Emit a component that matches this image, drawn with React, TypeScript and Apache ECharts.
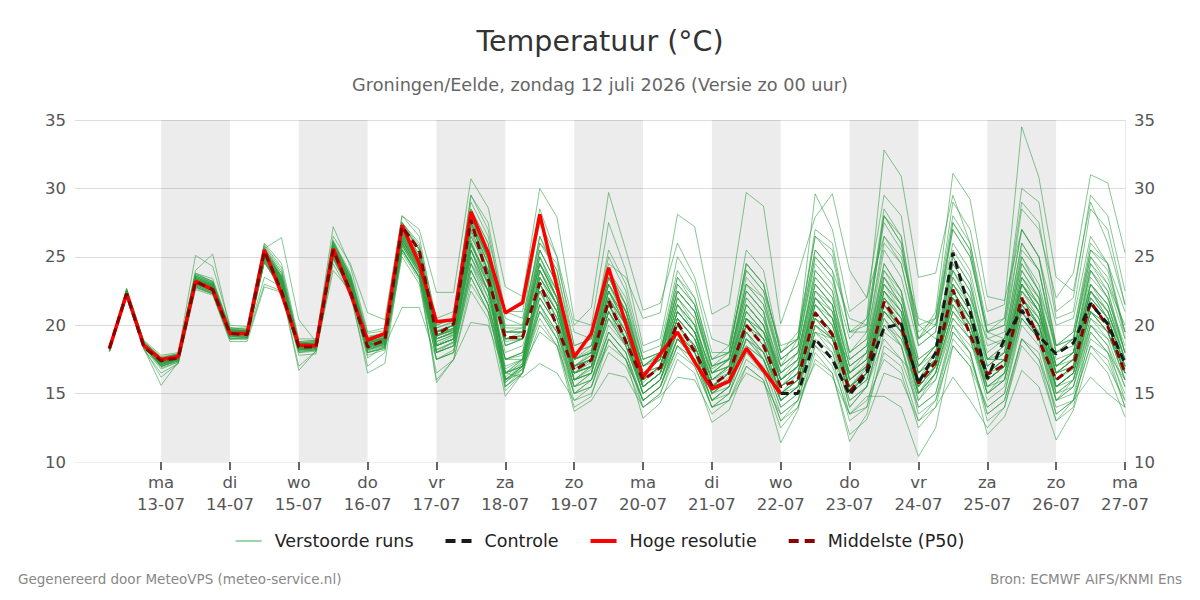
import React, { useEffect, useRef } from "react";
import * as echarts from "echarts";

// ---- time grid (hours relative to 13-07 00:00) ----
const FIRST_HOUR = -18; // first value: 12-07 06:00
const STEP_HOURS = 6;
const AXIS_MIN = -30; // 11-07 18:00
const AXIS_MAX = 336; // 27-07 00:00

// ---- tick labels ----
const dayNames = ["ma", "di", "wo", "do", "vr", "za", "zo", "ma", "di", "wo", "do", "vr", "za", "zo", "ma"];
const dayDates = ["13-07", "14-07", "15-07", "16-07", "17-07", "18-07", "19-07", "20-07", "21-07", "22-07", "23-07", "24-07", "25-07", "26-07", "27-07"];
const shadedDayIndex = [0, 2, 4, 6, 8, 10, 12];

// ---- texts ----
const titleText = "Temperatuur (°C)";
const subtitleText = "Groningen/Eelde, zondag 12 juli 2026 (Versie zo 00 uur)";
const footerLeft = "Gegenereerd door MeteoVPS (meteo-service.nl)";
const footerRight = "Bron: ECMWF AIFS/KNMI Ens";

// ---- Hoge resolutie (to 22-07 00:00) ----
const hres = [18.3, 22.3, 18.5, 17.5, 17.7, 23.2, 22.6, 19.4, 19.4, 25.5, 22.3, 18.55, 18.5, 25.6, 22.3, 18.9, 19.4, 27.3, 24.5, 20.25,
  20.4, 28.3, 25.3, 20.9, 21.65, 28.1, 22.8, 17.65, 19.4, 24.2, 20.1, 16.2, 17.9, 19.5, 17.3, 15.35, 15.9, 18.3, 16.7, 15.0];

// ---- Controle (from 22-07 00:00) ----
const controlStartIndex = 39;
const control = [15.0, 15.0, 19.0, 17.5, 14.9, 16.5, 19.8, 20.1, 15.75, 18.0, 25.3, 21.0, 16.1, 19.0, 21.1, 19.2, 17.9, 18.7, 21.6, 20.1, 17.2];

// ---- Middelste (P50) ----
const p50 = [18.3, 22.3, 18.4, 17.4, 17.6, 23.2, 22.6, 19.4, 19.3, 25.4, 22.5, 18.4, 18.4, 25.5, 22.5, 18.4, 18.9, 27.2, 25.5, 19.3,
  20.1, 27.7, 23.4, 19.1, 19.1, 23.1, 19.9, 16.7, 17.45, 21.8, 18.8, 16.0, 16.9, 20.2, 18.1, 15.6, 16.5, 20.0, 18.5, 15.5,
  16.0, 20.9, 19.3, 15.15, 16.7, 21.7, 19.9, 15.75, 17.3, 22.6, 19.3, 16.4, 17.1, 22.0, 18.9, 16.0, 17.0, 21.7, 19.9, 16.5];

// ---- Verstoorde runs (50 members) ----
const ensembleRuns = [
  [18.3,22.6,18.8, 17.6,17.9,23.8,23.4, 19.8,19.7,25.8,24.0, 18.8,18.9,26.2,23.8, 19.4,19.6,27.5,26.0, 20.5,21.0,29.0,26.5, 21.0,20.5,26.0,24.5, 19.5,19.0,24.5,23.5, 20.5,20.9,28.1,27.2, 20.8,21.5,29.7,28.7, 20.1,23.7,27.9,29.6, 24.0,22.0,26.5,25.0, 20.5,20.0,24.0,22.0, 19.0,18.5,24.5,22.5, 18.5,19.0,25.0,23.0, 20.0],
  [18.2,22.5,18.7, 17.4,17.7,23.5,23.0, 19.6,19.6,25.5,23.5, 18.6,18.7,25.9,23.4, 18.9,19.2,27.0,25.2, 19.5,20.0,28.0,25.0, 19.5,19.8,25.5,23.0, 17.5,18.0,23.5,21.0, 17.0,17.8,22.5,21.0, 17.0,17.5,23.0,22.0, 17.5,18.5,25.0,23.5, 19.0,20.5,32.8,30.9, 23.5,23.8,29.5,26.0, 19.5,19.0,26.0,24.0, 18.0,18.5,24.0,22.0, 18.5],
  [18.3,22.3,18.5, 17.2,17.5,23.0,22.6, 19.3,19.3,24.9,22.9, 18.3,18.4,25.3,22.8, 18.5,18.9,26.8,24.8, 19.2,19.8,27.5,24.0, 18.8,19.0,24.5,22.0, 17.0,17.8,23.0,20.5, 16.5,17.5,22.0,20.0, 16.5,17.0,22.5,21.0, 16.5,17.5,24.0,22.5, 18.0,19.0,26.5,24.5, 19.0,20.5,29.0,27.0, 21.0,21.5,34.5,30.8, 23.5,22.5,29.0,26.0, 21.5],
  [18.2,22.4,18.6, 17.5,17.8,23.6,23.1, 19.7,19.5,25.4,23.5, 18.7,18.6,25.9,23.3, 18.8,19.1,27.0,25.2, 19.3,19.6,27.8,24.8, 19.0,19.2,25.0,22.5, 17.5,18.2,23.5,21.0, 17.0,17.8,22.5,21.0, 16.8,17.6,23.0,21.5, 17.0,18.0,23.5,22.0, 17.5,18.5,25.5,23.5, 18.5,19.5,27.0,25.0, 19.5,20.0,28.5,27.0, 22.0,23.8,31.0,30.4, 25.3],
  [18.1,22.1,18.3, 16.8,17.3,22.8,22.3, 19.0,19.0,23.0,22.5, 18.0,18.1,24.0,22.5, 18.0,18.3,25.5,23.5, 18.0,18.5,24.5,21.5, 17.0,17.5,21.0,19.5, 15.5,16.0,19.5,18.0, 14.5,15.5,18.5,17.5, 14.5,15.0,18.0,17.0, 13.5,14.5,18.5,17.0, 13.5,14.8,14.8,14.0, 10.4,12.5,18.5,17.0, 14.0,15.0,20.0,18.5, 14.5,15.5,19.5,18.0, 15.0],
  [18.2,22.2,18.4, 17.0,17.4,23.0,22.5, 19.2,19.2,24.8,22.6, 18.2,18.3,25.0,22.4, 17.6,18.5,21.3,21.3, 17.5,18.0,24.5,22.5, 17.5,17.8,22.0,20.0, 16.0,16.8,20.5,18.5, 15.5,16.5,19.5,18.0, 15.5,16.0,19.5,18.0, 15.0,16.0,20.5,19.0, 15.0,16.0,21.0,19.5, 15.5,17.0,21.5,19.5, 15.5,16.5,21.5,19.5, 15.5,16.5,21.0,19.5, 16.0],
  [18.3,22.5,18.5, 17.1,17.5,23.1,22.6, 19.4,19.3,25.0,23.0, 18.3,18.4,25.3,22.7, 18.3,18.6,25.8,23.8, 16.0,17.5,20.2,20.0, 16.5,17.0,19.5,18.5, 15.0,16.0,18.5,17.5, 14.5,15.5,19.0,18.0, 15.0,16.0,20.0,18.5, 15.0,16.0,21.0,19.5, 15.5,16.5,21.5,19.5, 15.0,16.5,20.5,19.0, 15.5,16.0,21.0,19.0, 15.5,16.5,21.0,19.5, 16.5],
  [18.2,22.3,18.6, 17.3,17.6,23.2,22.7, 19.5,19.4,25.1,23.1, 18.4,18.5,25.4,22.9, 18.5,18.8,26.0,24.0, 18.0,18.5,24.0,21.5, 16.5,16.2,17.2,16.5, 14.5,15.0,18.0,17.0, 14.0,15.0,18.5,17.5, 14.0,15.0,19.0,18.0, 14.5,15.5,20.0,19.0, 15.0,16.0,21.0,19.5, 15.0,16.5,21.0,19.0, 15.0,16.0,20.5,19.0, 14.5,16.0,21.0,19.5, 16.0],
  [18.3,22.6,18.7, 17.5,17.8,23.7,23.2, 19.7,19.6,25.6,26.4, 20.4,18.8,26.1,23.5, 19.2,19.4,27.5,25.8, 20.0,20.5,29.5,27.0, 20.5,20.0,28.5,25.0, 20.0,21.3,29.7,25.5, 21.1,21.6,26.0,23.5, 19.0,18.5,24.0,22.5, 18.5,19.0,25.5,24.0, 20.5,20.0,27.5,25.5, 20.0,20.5,27.0,25.0, 19.5,20.0,27.0,25.0, 20.0,20.5,26.5,24.5, 21.0],
  [18.4,22.7,18.9, 17.8,18.0,25.1,24.3, 20.0,19.9,26.0,24.5, 19.0,19.0,26.5,24.5, 20.9,20.4,28.0,27.0, 22.4,22.4,30.7,28.6, 22.8,22.1,30.0,27.9, 20.4,20.0,27.5,24.0, 18.5,19.0,25.0,23.0, 18.0,18.0,24.5,23.0, 18.0,19.5,26.5,25.5, 19.5,20.5,28.0,26.0, 19.0,20.0,26.0,24.0, 18.5,19.0,25.0,23.0, 18.0,19.0,24.5,23.0, 19.0],
  [18.1,22.0,18.2, 16.5,17.2,22.6,22.2, 18.8,18.8,22.8,22.4, 17.8,17.9,24.5,22.2, 17.0,18.0,25.0,23.0, 16.5,17.5,23.0,21.0, 16.0,16.5,21.5,19.0, 14.0,14.8,19.0,17.5, 13.2,14.3,17.5,16.5, 12.9,13.8,17.0,16.0, 11.4,13.8,18.5,17.5, 13.0,14.0,19.5,18.5, 14.0,15.0,20.0,18.0, 13.5,14.5,19.0,17.5, 13.0,14.0,19.5,18.0, 14.0],
  [18.2,22.3,18.5, 17.0,17.4,22.9,22.4, 19.2,19.1,24.7,22.7, 18.1,18.2,25.0,22.6, 18.0,18.4,26.0,24.0, 18.5,19.0,25.5,22.5, 17.5,18.0,22.5,20.0, 15.5,16.5,21.0,18.5, 15.0,16.0,20.0,18.0, 14.5,15.5,19.5,17.5, 14.0,15.0,20.0,18.5, 14.0,15.5,20.5,18.5, 13.5,14.5,18.5,17.0, 12.0,13.3,16.7,15.5, 11.6,13.8,18.0,16.5, 13.3],
  [18.2,22.4,18.6, 17.4,17.7,23.4,22.9, 19.6,19.5,25.3,23.3, 18.5,18.6,25.7,23.1, 18.7,19.0,26.7,24.6, 19.2,19.6,27.0,24.0, 16.5,17.2,24.0,21.5, 16.8,17.5,22.5,20.0, 16.0,17.0,21.0,19.5, 16.0,16.8,21.0,19.5, 16.0,17.0,22.0,20.5, 16.0,17.2,22.5,21.0, 16.5,18.0,23.0,21.0, 16.5,17.5,23.0,21.0, 16.5,17.5,22.5,21.0, 17.5],
  [18.3,22.2,18.4, 17.2,17.6,23.1,22.6, 19.3,19.3,25.0,22.9, 18.3,18.4,25.4,22.8, 18.4,18.7,26.2,24.2, 18.6,19.2,26.0,23.0, 16.0,17.0,23.0,20.5, 16.0,17.0,21.5,19.0, 15.5,16.5,20.0,18.5, 15.2,16.2,20.0,18.5, 15.0,16.0,21.0,19.5, 15.2,16.5,22.0,20.0, 15.5,17.0,22.0,19.5, 16.0,17.0,22.0,20.0, 16.0,16.8,21.5,20.0, 16.8],
  [18.3,22.5,18.7, 17.5,17.8,23.5,23.0, 19.6,19.6,25.5,23.5, 18.6,18.7,25.8,23.3, 19.0,19.2,27.2,25.5, 19.8,20.2,28.5,26.0, 19.8,19.8,26.5,24.0, 18.5,19.0,25.5,23.0, 18.0,18.5,24.0,22.0, 17.5,18.0,24.5,23.0, 18.0,19.0,26.5,25.0, 19.5,20.0,28.5,26.5, 19.5,20.5,28.0,26.0, 20.0,20.5,29.0,27.5, 20.5,21.0,28.5,27.0, 21.5],
  [18.2,22.4,18.5, 17.3,17.6,23.3,22.8, 19.5,19.4,25.2,23.2, 18.4,18.5,25.6,23.0, 18.6,18.9,26.4,24.4, 19.0,19.4,26.8,23.6, 16.2,17.4,23.5,21.0, 16.5,17.3,22.0,19.5, 15.8,16.9,20.5,19.0, 15.6,16.5,20.5,19.0, 15.5,16.5,21.5,20.0, 15.5,16.8,22.0,20.5, 15.8,17.5,22.5,20.0, 16.0,17.0,22.5,20.5, 16.0,17.0,22.0,20.5, 17.0],
  [18.1,22.2,18.4, 17.0,17.5,23.0,22.5, 19.2,19.2,24.9,22.8, 18.2,18.3,25.2,22.6, 18.2,18.6,26.0,24.0, 19.5,20.0,27.5,25.0, 19.0,19.5,24.5,22.0, 16.0,16.5,20.5,18.5, 15.0,16.0,19.0,17.5, 16.5,17.5,22.5,21.0, 15.0,15.5,19.5,19.0, 17.5,18.5,24.5,22.5, 15.0,16.0,20.0,18.5, 17.0,18.0,25.0,22.5, 15.0,16.0,20.0,19.0, 17.5],
  [18.3,22.5,18.7, 17.6,17.8,23.5,23.0, 19.6,19.6,25.5,23.4, 18.6,18.7,25.8,23.2, 18.8,19.1,26.8,24.8, 18.5,19.0,25.0,22.5, 18.0,18.5,22.0,20.0, 17.0,18.0,24.0,21.5, 16.5,17.5,22.0,20.5, 15.0,15.5,18.5,17.5, 14.5,15.5,20.0,19.0, 14.0,15.5,19.0,17.5, 16.0,18.0,24.5,22.5, 17.5,17.5,22.0,20.0, 14.5,15.0,19.0,18.0, 16.0],
  [18.2,22.3,18.6, 17.3,17.7,23.3,22.9, 19.5,19.5,25.3,23.3, 18.5,18.5,25.7,23.1, 18.7,19.0,26.5,24.5, 19.5,20.0,27.5,24.5, 19.5,19.5,25.0,22.0, 17.5,18.0,22.5,20.5, 17.0,17.5,21.5,20.0, 16.5,17.0,21.5,20.0, 16.5,18.0,24.0,22.5, 16.0,17.0,21.0,19.5, 15.5,17.0,23.0,21.5, 16.5,17.5,23.5,21.5, 17.0,18.0,23.0,21.5, 17.5],
  [18.2,22.4,18.6, 17.2,17.5,23.2,22.7, 19.4,19.4,25.1,23.1, 18.4,18.4,25.5,22.9, 18.6,18.8,26.3,24.3, 18.8,19.3,26.2,23.2, 15.8,16.8,22.5,20.5, 16.5,17.0,21.5,19.5, 16.0,17.0,21.0,19.5, 16.0,17.0,21.5,20.0, 16.5,17.5,22.5,21.0, 15.0,16.5,22.5,21.0, 17.0,18.5,24.0,21.5, 16.0,17.0,22.0,20.0, 16.5,17.5,23.0,21.0, 17.0],
  [18.3,22.4,18.5, 17.4,17.6,23.4,22.8, 19.5,19.4,25.2,23.2, 18.5,18.6,25.6,23.0, 18.5,18.9,26.6,24.6, 19.3,19.8,27.8,25.0, 16.0,17.0,23.0,21.0, 16.5,17.0,21.5,19.0, 15.5,16.5,20.0,18.5, 15.5,16.0,20.0,19.0, 15.5,16.5,22.0,20.5, 16.5,17.5,23.5,21.5, 16.0,17.5,22.5,20.5, 16.5,17.5,23.0,21.0, 16.5,17.5,22.5,20.5, 17.0],
  [18.2,22.6,18.8, 17.7,17.9,24.0,25.2, 19.8,19.8,25.9,24.2, 18.8,18.9,27.2,24.3, 19.5,19.8,28.0,26.5, 20.0,20.5,29.5,27.5, 21.0,21.0,27.5,25.0, 18.5,19.0,25.0,22.5, 17.5,18.0,23.5,21.5, 17.0,18.0,24.5,23.0, 18.0,19.0,27.0,26.0, 19.5,19.5,28.0,26.0, 18.5,19.5,27.5,25.5, 19.0,19.5,27.0,25.0, 18.5,19.5,25.5,24.0, 19.5],
  [18.1,22.1,18.3, 16.2,17.2,22.7,22.3, 19.0,19.0,24.6,22.6, 17.0,18.1,24.8,22.4, 17.8,18.2,25.3,23.3, 17.5,18.2,23.5,21.0, 16.0,16.8,20.5,18.5, 14.5,15.5,19.5,18.0, 14.0,15.0,18.0,17.0, 14.0,14.5,17.5,16.5, 13.0,14.5,19.0,18.0, 13.5,14.5,17.5,16.5, 12.5,14.0,19.0,17.5, 14.0,15.0,20.5,19.0, 13.5,14.5,20.0,18.5, 14.5],
  [18.3,22.3,18.5, 17.3,17.5,23.1,22.6, 19.3,19.3,25.0,23.0, 18.3,18.4,25.4,22.8, 18.4,18.7,26.0,24.0, 18.0,18.8,25.0,22.0, 17.5,18.0,23.5,21.5, 17.0,17.5,22.5,20.0, 16.0,17.0,21.5,19.5, 15.0,16.0,19.5,18.0, 15.0,16.5,21.5,20.5, 16.5,17.5,23.0,21.0, 15.0,17.0,21.5,19.5, 15.0,16.5,21.5,20.0, 15.5,16.5,21.5,20.0, 16.5],
  [18.2,22.5,18.6, 17.4,17.7,23.4,22.9, 19.6,19.5,25.4,23.4, 18.5,18.6,25.8,23.2, 18.8,19.1,27.0,25.0, 19.0,19.5,26.5,24.0, 19.0,19.0,25.5,23.0, 17.0,17.5,23.5,21.0, 16.5,17.5,22.5,21.0, 16.5,17.5,23.5,22.0, 17.0,18.0,23.0,21.5, 15.0,16.0,21.0,20.0, 16.0,17.5,23.5,21.5, 16.0,17.0,22.0,20.5, 17.0,18.0,24.5,22.5, 18.0],
  [18.2,22.2,18.4, 17.1,17.5,23.0,22.5, 19.2,19.2,24.8,22.8, 18.2,18.3,25.1,22.6, 18.2,18.5,25.5,23.5, 18.0,18.5,25.5,23.0, 15.5,16.5,22.0,20.0, 15.5,16.5,20.5,19.0, 15.0,16.0,19.0,18.0, 14.5,15.5,19.0,18.0, 15.0,16.0,20.5,19.5, 14.5,15.5,20.0,19.0, 15.0,16.5,21.0,19.5, 15.5,16.5,21.0,19.0, 14.5,15.5,20.5,19.0, 15.5],
  [18.3,22.6,18.8, 17.6,17.9,23.8,23.2, 19.8,19.7,25.7,23.8, 18.7,18.8,26.0,23.6, 19.0,19.3,27.3,25.6, 19.5,20.0,28.0,25.5, 19.0,19.0,24.0,21.5, 16.0,16.5,21.0,19.0, 15.5,16.5,20.5,19.0, 16.0,17.0,22.0,20.5, 16.0,17.5,23.0,21.5, 17.0,18.0,24.5,22.5, 17.0,18.5,25.5,23.5, 17.5,18.5,24.5,22.5, 17.0,18.0,23.5,22.0, 18.0],
  [18.1,22.3,18.5, 17.0,17.4,22.9,22.4, 19.1,19.1,24.7,22.7, 18.1,18.2,25.1,22.5, 18.0,18.4,25.8,23.8, 18.2,18.8,25.5,22.5, 17.5,18.0,22.5,20.0, 15.0,15.5,19.0,17.5, 14.5,15.5,18.5,17.0, 14.0,14.5,17.0,16.0, 12.5,14.0,17.5,16.5, 12.0,13.1,16.5,16.0, 13.0,14.0,16.2,14.5, 12.5,14.0,18.5,17.0, 13.0,14.5,16.2,15.0, 14.0],
  [18.2,22.4,18.6, 17.3,17.6,23.3,22.8, 19.5,19.4,25.2,23.2, 18.4,18.5,25.6,23.0, 18.6,18.9,26.4,24.4, 19.0,19.5,26.5,24.0, 18.5,19.0,24.0,22.0, 17.5,18.0,23.0,20.5, 16.5,17.0,21.0,19.5, 16.0,16.5,20.5,19.5, 17.0,19.0,29.6,27.0, 21.0,22.0,29.5,28.0, 20.0,19.0,23.0,21.0, 17.5,17.5,23.5,22.0, 17.5,18.0,24.0,22.0, 18.0],
  [18.2,22.3,18.5, 17.2,17.5,23.1,22.6, 19.4,19.3,25.0,23.0, 18.3,18.4,25.4,22.8, 18.4,18.7,26.1,24.1, 18.5,19.0,25.5,22.5, 15.8,17.0,23.0,20.5, 16.0,17.0,21.5,19.5, 15.5,16.5,19.5,18.0, 15.5,16.0,19.0,17.5, 14.5,15.5,20.0,19.0, 15.5,16.5,21.5,20.0, 16.0,17.5,22.0,20.0, 16.0,17.0,22.0,20.0, 15.5,16.5,21.0,19.5, 16.5],
  [18.3,22.5,18.6, 17.4,17.7,23.6,23.1, 19.6,19.6,25.6,23.6, 18.6,18.7,25.9,23.4, 18.9,19.2,27.0,25.0, 19.5,20.0,27.5,25.0, 19.5,19.5,25.0,22.5, 17.5,18.5,24.0,21.5, 17.5,18.0,23.0,21.5, 17.0,17.5,22.5,21.0, 16.0,17.0,22.0,21.0, 16.5,18.0,24.0,22.0, 17.0,18.0,24.0,22.0, 17.5,18.5,25.5,24.0, 18.0,19.0,25.5,24.5, 19.0],
  [18.2,22.3,18.6, 17.3,17.6,23.2,22.8, 19.4,19.4,25.1,23.2, 18.4,18.5,25.5,23.0, 18.5,18.8,26.3,24.3, 18.8,19.3,26.0,23.5, 16.5,17.5,23.0,21.0, 16.5,17.0,21.0,19.0, 15.0,16.0,19.5,18.5, 15.5,16.5,20.5,19.0, 15.5,16.5,21.5,20.0, 16.0,17.0,22.0,20.5, 15.5,17.0,22.5,20.5, 16.5,17.5,23.0,21.5, 16.0,17.0,22.5,21.0, 17.5],
  [18.1,22.2,18.4, 16.9,17.3,22.8,22.3, 19.0,19.1,24.6,22.6, 18.0,18.2,24.9,22.5, 18.0,18.3,25.5,23.5, 17.5,18.0,24.0,21.5, 16.5,17.0,21.5,19.5, 15.0,16.0,19.5,18.0, 14.5,15.5,19.0,17.5, 14.0,15.0,18.0,16.5, 13.0,14.0,18.0,16.5, 11.5,13.5,18.5,17.5, 14.0,15.0,19.5,18.0, 13.5,14.5,19.0,17.5, 14.0,14.5,18.5,17.0, 14.5],
  [18.3,22.4,18.7, 17.5,17.8,23.5,23.0, 19.6,19.6,25.4,23.5, 18.6,18.6,25.8,23.3, 18.8,19.1,26.9,25.0, 19.2,19.7,27.2,24.5, 19.0,19.2,24.5,22.0, 17.0,17.8,22.5,20.5, 16.5,17.5,21.5,20.0, 16.5,17.5,22.0,20.5, 17.0,18.0,23.5,22.0, 17.0,18.0,23.0,21.5, 16.5,18.0,23.5,21.5, 17.0,18.0,24.0,22.0, 17.0,18.0,23.0,21.5, 18.0],
  [18.2,22.3,18.5, 17.2,17.5,23.2,22.7, 19.4,19.4,25.0,23.0, 18.3,18.4,25.4,22.8, 18.3,18.6,25.8,23.8, 18.2,18.7,24.5,22.0, 15.5,16.5,21.0,19.0, 15.5,16.0,20.0,18.5, 15.0,16.0,20.0,18.5, 15.0,16.0,20.5,19.0, 15.5,16.5,21.0,19.5, 15.5,16.5,20.5,19.0, 16.0,17.0,21.5,20.0, 16.5,17.0,21.5,20.0, 16.0,17.0,21.5,20.0, 16.5],
  [18.3,22.5,18.7, 17.5,17.8,23.6,23.1, 19.7,19.6,25.6,23.6, 18.7,18.8,26.1,23.6, 19.1,19.4,27.5,25.6, 19.8,20.3,28.5,26.0, 19.5,19.5,26.0,24.0, 18.0,18.5,24.0,22.0, 17.5,18.0,23.0,21.5, 17.5,18.0,24.0,22.5, 17.5,18.5,25.0,23.5, 18.0,19.0,26.0,24.5, 19.0,21.0,31.1,29.2, 22.1,21.8,27.0,25.0, 18.5,19.0,25.0,23.5, 19.5],
  [18.2,22.4,18.5, 17.3,17.6,23.3,22.8, 19.5,19.4,25.2,23.2, 18.5,18.5,25.6,23.0, 18.7,19.0,26.6,24.6, 19.3,19.8,27.3,24.5, 16.8,17.5,23.5,21.5, 16.5,17.0,22.5,20.5, 16.5,17.5,22.0,20.5, 16.0,17.0,21.5,20.0, 16.0,17.0,22.5,21.0, 16.5,17.5,22.5,21.0, 16.0,17.5,23.0,21.0, 16.5,17.5,23.0,21.0, 16.5,17.5,22.5,20.5, 17.0],
  [18.2,22.3,18.5, 17.2,17.5,23.1,22.6, 19.3,19.3,25.0,23.0, 18.3,18.4,25.3,22.8, 18.3,18.7,26.2,24.2, 18.5,19.0,26.0,23.0, 15.5,16.8,23.0,21.0, 16.5,17.5,22.0,20.0, 15.5,16.5,20.5,19.0, 15.0,16.0,20.0,18.5, 15.0,16.0,20.5,19.0, 15.0,16.5,21.5,19.5, 14.5,16.5,22.0,20.0, 15.0,16.0,21.5,20.0, 15.0,16.0,21.0,20.0, 16.5],
  [18.1,22.2,18.3, 15.6,17.3,22.8,22.3, 19.0,19.0,24.6,22.6, 16.7,18.1,24.9,22.5, 16.5,17.2,25.5,23.5, 15.8,17.5,22.5,20.5, 14.8,16.5,20.0,18.5, 13.7,14.5,16.5,16.2, 14.0,14.8,16.2,16.0, 13.5,14.5,16.5,15.8, 13.5,14.5,17.2,16.2, 13.5,14.0,18.0,17.0, 13.0,14.5,19.5,18.0, 13.0,14.0,19.0,18.0, 13.5,14.5,18.5,17.5, 14.0],
  [18.3,22.4,18.6, 17.4,17.7,23.3,22.9, 19.5,19.5,25.3,23.3, 18.5,18.6,25.7,23.1, 18.8,19.0,26.8,24.8, 19.6,20.0,27.8,25.2, 19.0,19.3,24.5,22.0, 17.0,17.5,22.5,20.0, 16.0,17.0,21.0,19.5, 15.5,16.5,20.5,19.0, 16.0,17.0,21.5,20.0, 16.5,17.5,23.5,22.0, 17.5,18.5,24.5,22.5, 17.0,18.0,23.5,21.5, 16.5,17.5,23.0,21.5, 17.5],
  [18.2,22.5,18.6, 17.4,17.6,23.4,22.9, 19.5,19.5,25.3,23.3, 18.5,18.5,25.6,23.1, 18.6,18.9,26.5,24.5, 18.5,19.0,25.0,22.5, 17.5,17.5,21.5,19.5, 16.0,16.5,21.0,19.0, 15.5,16.5,21.0,19.5, 15.5,16.5,21.5,20.0, 16.0,17.0,22.0,20.5, 15.5,17.0,23.0,21.5, 17.0,18.5,25.0,23.0, 17.5,18.0,24.0,22.0, 17.0,18.0,24.0,22.5, 18.0],
  [18.2,22.3,18.5, 17.2,17.6,23.2,22.7, 19.4,19.3,25.1,23.1, 18.4,18.4,25.5,22.9, 18.5,18.8,26.2,24.2, 19.0,19.5,27.0,24.0, 16.5,17.5,24.0,21.5, 16.5,17.0,21.5,19.5, 16.0,17.0,20.5,19.0, 15.5,16.5,20.0,19.0, 15.5,16.5,21.0,19.5, 15.5,16.5,21.5,20.0, 15.5,17.0,22.0,20.0, 16.0,17.0,22.5,21.0, 16.5,17.0,22.0,20.5, 17.0],
  [18.3,22.6,18.7, 17.6,17.9,23.7,23.2, 19.7,19.7,25.6,23.8, 18.7,18.8,26.1,23.6, 19.1,19.4,27.4,25.5, 19.5,20.0,28.0,25.5, 19.5,19.5,25.5,23.0, 18.0,18.5,23.5,21.5, 17.0,18.0,22.5,21.0, 17.0,17.5,23.0,21.5, 17.5,18.5,24.5,23.0, 18.0,19.5,28.0,26.5, 19.0,20.0,27.5,25.5, 19.5,20.5,30.0,29.0, 21.0,22.0,29.5,28.0, 22.5],
  [18.2,22.3,18.6, 17.3,17.6,23.2,22.8, 19.4,19.4,25.1,23.2, 18.4,18.5,25.5,23.0, 18.5,18.8,26.4,24.4, 18.5,19.0,25.8,23.5, 18.5,19.0,24.5,22.5, 17.5,18.0,23.0,21.0, 16.0,17.0,21.5,20.0, 15.0,16.0,19.5,18.0, 14.5,15.5,19.5,18.5, 15.0,16.5,22.0,20.5, 16.5,17.5,22.5,20.5, 15.5,16.5,22.0,20.5, 15.5,16.5,21.0,20.0, 16.5],
  [18.2,22.4,18.5, 17.3,17.7,23.3,22.8, 19.5,19.5,25.2,23.2, 18.5,18.5,25.6,23.0, 18.6,18.9,26.6,24.6, 19.2,19.7,27.5,24.8, 16.0,17.0,24.0,21.5, 17.0,17.5,21.5,19.5, 15.5,16.5,20.0,18.5, 15.5,16.5,21.0,19.5, 16.5,17.5,23.0,21.5, 16.0,17.0,21.5,20.0, 15.5,17.0,22.0,20.5, 16.0,17.0,22.5,21.0, 15.5,16.5,21.5,20.0, 16.5],
  [18.1,22.2,18.4, 17.0,17.4,22.9,22.4, 19.2,19.1,23.5,22.8, 18.2,18.2,25.0,22.6, 18.1,18.5,25.6,23.6, 17.5,18.0,23.5,21.0, 16.5,17.0,21.0,19.0, 15.0,15.5,19.0,17.5, 14.5,15.5,19.0,17.5, 14.5,15.5,19.0,17.5, 14.0,15.0,19.5,18.0, 14.5,15.5,20.0,18.5, 14.5,16.0,20.5,19.0, 14.5,15.5,20.5,19.0, 15.0,15.5,20.0,18.5, 15.5],
  [18.3,22.5,18.6, 17.5,17.7,23.4,22.9, 19.6,19.5,25.3,23.4, 18.6,18.6,25.7,23.2, 18.7,19.0,26.7,24.7, 19.5,20.0,28.0,25.5, 20.0,20.0,26.5,23.5, 17.5,18.0,23.0,21.0, 17.0,18.0,23.5,22.0, 17.5,18.5,25.5,24.0, 18.0,19.0,25.5,24.0, 17.5,18.5,24.0,22.5, 17.5,18.5,25.0,23.0, 18.0,19.0,26.0,24.0, 18.5,19.5,26.0,24.5, 19.5],
  [18.2,22.3,18.4, 17.1,17.5,23.0,22.5, 19.3,19.2,24.9,22.9, 18.2,18.3,25.2,22.7, 18.2,18.6,25.9,23.9, 18.0,18.5,24.0,21.5, 15.2,16.5,23.0,21.0, 16.0,16.5,21.0,19.0, 15.0,16.0,19.5,18.0, 14.5,15.5,18.5,17.5, 14.5,15.5,20.5,19.5, 15.5,16.5,21.0,19.5, 15.0,16.5,21.0,19.5, 15.0,16.0,21.0,19.5, 15.5,16.0,20.5,19.5, 16.0],
  [18.2,22.4,18.6, 17.4,17.7,23.4,22.9, 19.5,19.5,25.3,23.3, 18.5,18.6,25.7,23.1, 18.7,19.0,26.8,24.8, 19.0,19.5,26.0,23.5, 18.5,19.0,24.5,22.0, 17.0,17.5,22.0,20.0, 16.5,17.0,21.0,19.5, 16.5,17.0,21.0,19.5, 16.0,17.0,22.5,21.5, 17.0,18.0,23.5,21.5, 16.5,17.5,22.5,20.5, 16.0,17.0,23.0,21.5, 17.0,17.5,22.5,21.0, 17.5],
  [18.3,22.3,18.5, 17.2,17.6,23.1,22.7, 19.4,19.4,25.1,23.1, 18.4,18.4,25.5,22.9, 18.4,18.8,26.2,24.2, 18.5,19.0,25.5,23.0, 16.0,17.2,23.5,21.5, 16.5,17.0,22.0,20.0, 15.5,16.5,20.5,19.0, 15.5,16.5,20.5,19.5, 15.5,17.0,22.0,20.5, 16.0,17.0,22.5,20.5, 15.5,17.0,22.5,20.5, 16.5,17.5,23.0,21.0, 16.5,17.0,22.0,20.5, 17.0],
];

const FONT = "DejaVu Sans";
const ENSEMBLE_COLOR = "rgba(46,158,68,0.58)";

// legend icon shapes
const ICON_THIN = "path://M0,0H26V1.6H0Z";
const ICON_SOLID = "path://M0,0H26V4H0Z";
const ICON_DASH = "path://M0,0H10V4H0ZM16,0H26V4H16Z";

function toPoints(values: number[], startIndex = 0) {
  return values.map((v, k) => [FIRST_HOUR + STEP_HOURS * (startIndex + k), v]);
}

export default function App() {
  const ref = useRef<HTMLDivElement>(null);

  useEffect(() => {
    document.body.style.margin = "0";
    if (!ref.current) return;
    const chart = echarts.init(ref.current, undefined, { renderer: "svg" });

    const tickValues = dayDates.map((_, i) => i * 24);

    const ensembleSeries = ensembleRuns.map((run) => ({
      type: "line",
      name: "Verstoorde runs",
      data: toPoints(run),
      symbol: "none",
      showSymbol: false,
      silent: true,
      z: 2,
      lineStyle: { width: 1, color: ENSEMBLE_COLOR },
      itemStyle: { color: ENSEMBLE_COLOR },
    }));

    const bandSeries = {
      type: "line",
      name: "bands",
      data: [],
      silent: true,
      z: 0,
      markArea: {
        silent: true,
        itemStyle: { color: "rgba(0,0,0,0.075)" },
        data: shadedDayIndex.map((d) => [{ xAxis: d * 24 }, { xAxis: (d + 1) * 24 }]),
      },
    };

    const option: any = {
      animation: false,
      backgroundColor: "#ffffff",
      textStyle: { fontFamily: FONT },
      title: [
        { text: titleText, left: "center", top: 22, textStyle: { fontFamily: FONT, fontSize: 28.5, fontWeight: "normal", color: "#333333" } },
        { text: subtitleText, left: "center", top: 71, textStyle: { fontFamily: FONT, fontSize: 17.7, fontWeight: "normal", color: "#666666" } },
        { text: footerLeft, left: 18, top: 572, padding: 0, textStyle: { fontFamily: FONT, fontSize: 13.5, fontWeight: "normal", color: "#888888" } },
        { text: footerRight, right: 18, top: 572, padding: 0, textStyle: { fontFamily: FONT, fontSize: 13.5, fontWeight: "normal", color: "#888888" } },
      ],
      legend: {
        data: [
          { name: "Verstoorde runs", icon: ICON_THIN },
          { name: "Controle", icon: ICON_DASH },
          { name: "Hoge resolutie", icon: ICON_SOLID },
          { name: "Middelste (P50)", icon: ICON_DASH },
        ],
        left: "center",
        top: 527,
        itemWidth: 26,
        itemHeight: 14,
        itemGap: 32,
        textStyle: { fontFamily: FONT, fontSize: 17.5, color: "#222222", padding: [0, 0, 0, 8] },
      },
      grid: { left: 75, right: 75, top: 120, bottom: 138, containLabel: false },
      xAxis: {
        type: "value",
        min: AXIS_MIN,
        max: AXIS_MAX,
        axisLine: { show: true, lineStyle: { color: "#eeeeee", width: 1 } },
        axisTick: { show: true, customValues: tickValues, length: 8, lineStyle: { color: "#666666", width: 2 } },
        axisLabel: {
          customValues: tickValues,
          color: "#555555",
          fontFamily: FONT,
          fontSize: 16.5,
          lineHeight: 22,
          margin: 9,
          formatter: (v: number) => {
            const i = Math.round(v / 24);
            return dayNames[i] + "\n" + dayDates[i];
          },
        },
        splitLine: { show: false },
      },
      yAxis: [
        {
          type: "value",
          min: 10,
          max: 35,
          interval: 5,
          position: "left",
          axisLine: { show: false },
          axisTick: { show: false },
          axisLabel: { color: "#555555", fontFamily: FONT, fontSize: 16.5, margin: 9 },
          splitLine: { show: true, lineStyle: { color: ["#f4f4f4", "#dddddd", "#dddddd", "#dddddd", "#dddddd", "#dddddd"], width: 1 } },
        },
        {
          type: "value",
          min: 10,
          max: 35,
          interval: 5,
          position: "right",
          axisLine: { show: true, lineStyle: { color: "#e8e8e8", width: 1 } },
          axisTick: { show: false },
          axisLabel: { color: "#555555", fontFamily: FONT, fontSize: 16.5, margin: 9 },
          splitLine: { show: false },
        },
      ],
      series: [
        bandSeries,
        ...ensembleSeries,
        {
          type: "line",
          name: "Hoge resolutie",
          data: toPoints(hres),
          symbol: "none",
          showSymbol: false,
          z: 4,
          lineStyle: { width: 3.5, color: "#ff0000" },
          itemStyle: { color: "#ff0000" },
        },
        {
          type: "line",
          name: "Middelste (P50)",
          data: toPoints(p50),
          symbol: "none",
          showSymbol: false,
          z: 5,
          lineStyle: { width: 3, color: "#8b0000", type: [8, 5] },
          itemStyle: { color: "#8b0000" },
        },
        {
          type: "line",
          name: "Controle",
          data: toPoints(control, controlStartIndex),
          symbol: "none",
          showSymbol: false,
          z: 6,
          lineStyle: { width: 3, color: "#1a1a1a", type: [8, 5] },
          itemStyle: { color: "#1a1a1a" },
        },
      ],
    };

    chart.setOption(option);
    return () => chart.dispose();
  }, []);

  return <div ref={ref} style={{ width: 1200, height: 600 }} />;
}
